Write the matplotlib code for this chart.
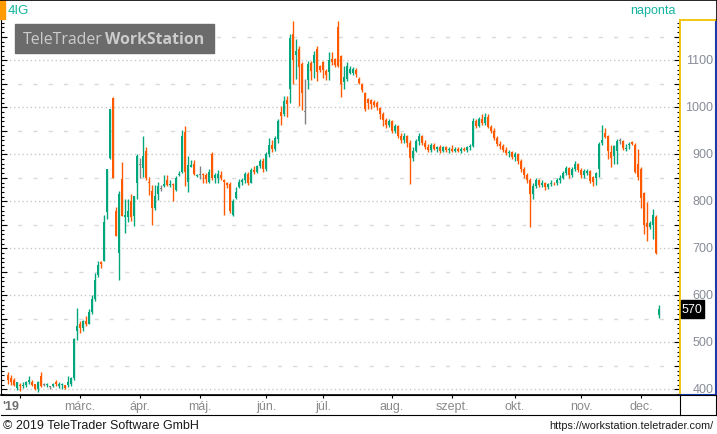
import numpy as np
import pandas as pd
import matplotlib
matplotlib.use("Agg")
import matplotlib.pyplot as plt
from matplotlib.patches import Rectangle
from matplotlib.lines import Line2D

# trading days (BET calendar, holidays removed)
holidays = ["2019-03-15", "2019-04-19", "2019-04-22", "2019-05-01", "2019-06-10",
            "2019-08-19", "2019-08-20", "2019-10-23", "2019-11-01"]
dates = pd.bdate_range("2019-01-28", "2019-12-10", freq="C", holidays=holidays)

month_names = ["'19", "márc.", "ápr.", "máj.", "jún.", "júl.", "aug.", "szept.", "okt.", "nov.", "dec."]

# daily OHLC
opens = [430, 424, 420, 402, 410, 407, 409, 415, 416, 411, 400, 428, 410, 409, 405, 407, 415, 407, 409, 409,
         409, 411, 424, 525,
         538, 530, 545, 540, 565, 592, 643, 671, 673, 777, 892, 1020, 779, 690, 847, 767, 767, 800, 768, 839,
         877, 870, 907, 841, 822, 786, 815, 826, 833, 845, 834, 837, 824, 855, 862, 947, 841, 874, 879, 854,
         856, 858, 855, 841, 900, 849, 849, 857, 845, 838, 836, 771, 807, 830, 842, 845, 858, 840, 866, 862,
         875, 885,
         868, 900, 920, 912, 932, 990, 986, 1015, 1039, 1156, 1111, 1124, 1092, 990, 1058, 1094, 1094, 1124, 1088,
         1096, 1077, 1075, 1103, 1103, 1171, 1109, 1054, 1060, 1073, 1073, 1080, 1060, 1049, 1030, 1017, 1015, 1012,
         1010, 998, 985, 972, 962,
         970, 950, 960, 940, 930, 940, 925, 892, 908, 928, 940, 925, 915, 910, 920, 912, 915, 908, 915, 910,
         912, 908, 912, 907, 912, 909, 915, 918, 970, 960, 975, 966, 980, 958, 950, 935, 922, 918, 910, 902, 905,
         895, 900, 885, 868, 855, 845, 815, 832, 845, 835, 840, 830, 836, 840, 838, 846, 850, 860, 870, 856, 868, 880,
         866, 855, 860, 864, 851, 849, 869, 924, 945, 939, 905, 896, 907, 928, 928, 912, 919, 926, 920, 880,
         869, 817, 754, 745, 749, 767, 558]
highs = [436, 430, 424, 416, 413, 416, 418, 428, 420, 412, 417, 436, 413, 414, 408, 414, 419, 415, 413, 410,
         428, 426, 510, 573,
         545, 548, 555, 570, 600, 648, 672, 673, 771, 868, 996, 1022, 788, 822, 884, 805, 805, 815, 812, 900,
         892, 939, 915, 852, 834, 835, 841, 835, 856, 855, 846, 839, 853, 865, 952, 960, 896, 888, 888, 858,
         875, 860, 860, 869, 905, 861, 867, 865, 848, 841, 841, 805, 831, 848, 850, 862, 862, 870, 875, 878,
         890, 892,
         905, 935, 930, 940, 975, 1003, 1024, 1023, 1156, 1183, 1145, 1130, 1096, 1060, 1098, 1098, 1120, 1130, 1090,
         1098, 1081, 1117, 1117, 1105, 1184, 1112, 1088, 1096, 1088, 1085, 1084, 1064, 1052, 1033, 1020, 1018, 1015,
         1013, 1000, 990, 978, 975,
         972, 965, 962, 945, 945, 942, 930, 915, 932, 945, 942, 930, 922, 925, 925, 918, 920, 918, 918, 915,
         920, 915, 916, 915, 915, 918, 922, 978, 975, 980, 985, 988, 985, 962, 955, 940, 928, 922, 915, 910, 908,
         905, 902, 890, 872, 860, 850, 838, 850, 848, 845, 842, 840, 845, 842, 850, 855, 865, 875, 872, 872, 885,
         882, 870, 868, 868, 866, 853, 862, 927, 962, 955, 942, 920, 920, 932, 935, 930, 922, 926, 928, 924,
         911, 872, 820, 798, 758, 784, 770, 580]
lows = [412, 410, 406, 398, 396, 402, 405, 412, 408, 398, 394, 404, 406, 404, 400, 404, 408, 402, 400, 401,
        405, 408, 420, 505,
        520, 525, 535, 538, 560, 588, 640, 658, 672, 762, 890, 849, 726, 632, 768, 733, 756, 758, 747, 805,
        849, 851, 845, 813, 750, 782, 803, 822, 830, 832, 831, 800, 822, 853, 860, 832, 820, 872, 856, 851,
        847, 840, 840, 838, 846, 838, 838, 846, 770, 828, 775, 768, 805, 828, 835, 840, 835, 838, 858, 860,
        870, 862,
        865, 895, 905, 908, 925, 962, 981, 980, 1010, 1050, 1060, 1003, 994, 964, 1039, 1058, 1062, 1056, 1075,
        1062, 1058, 1058, 1090, 1085, 1085, 1022, 1039, 1055, 1070, 1068, 1065, 1050, 1032, 992, 996, 996, 1000,
        995, 975, 960, 955, 958,
        945, 945, 935, 925, 925, 915, 836, 885, 905, 920, 920, 912, 905, 905, 910, 905, 902, 905, 905, 902,
        905, 904, 905, 903, 906, 905, 910, 915, 955, 958, 962, 962, 955, 945, 930, 918, 912, 905, 898, 895, 890,
        885, 880, 862, 850, 840, 745, 805, 828, 830, 830, 825, 826, 832, 834, 835, 840, 848, 855, 850, 852, 865,
        862, 850, 850, 855, 840, 832, 834, 852, 920, 935, 890, 873, 880, 880, 922, 910, 908, 912, 920, 860,
        845, 786, 730, 715, 741, 720, 688, 552]
closes = [420, 415, 410, 415, 406, 410, 415, 420, 410, 400, 415, 406, 410, 411, 405, 411, 411, 411, 411, 403,
          415, 424, 507, 535,
          530, 545, 540, 565, 592, 633, 665, 667, 756, 868, 996, 849, 726, 815, 768, 770, 779, 767, 811, 896,
          877, 896, 849, 838, 786, 811, 832, 826, 836, 834, 836, 835, 849, 858, 939, 862, 877, 878, 858, 856,
          856, 855, 847, 862, 849, 857, 858, 849, 841, 835, 779, 800, 820, 842, 845, 858, 840, 866, 862, 875,
          885, 868,
          900, 920, 912, 935, 971, 981, 1013, 1006, 1147, 1101, 1120, 1086, 1030, 990, 1092, 1077, 1111, 1075, 1079,
          1079, 1068, 1101, 1096, 1090, 1088, 1050, 1064, 1088, 1081, 1081, 1070, 1052, 1037, 996, 1010, 1008, 1005,
          1000, 985, 972, 962, 970,
          950, 960, 940, 930, 940, 925, 892, 908, 928, 940, 925, 915, 910, 920, 912, 915, 908, 915, 910, 912,
          908, 912, 907, 912, 909, 915, 918, 970, 960, 975, 966, 980, 958, 950, 935, 922, 918, 910, 902, 905, 895,
          900, 885, 868, 855, 845, 815, 832, 845, 835, 840, 830, 836, 840, 838, 846, 850, 860, 870, 856, 868, 880, 866,
          855, 864, 864, 843, 841, 860, 922, 930, 937, 908, 892, 917, 928, 928, 913, 914, 921, 922, 862, 852,
          807, 749, 745, 754, 771, 690, 570]

W, H = 717, 435
GREEN = "#00a67c"
ORANGE = "#ff5a00"
GRAY = "#808080"
TEAL = "#13b4a0"

plt.rcParams["font.family"] = ["Liberation Sans", "DejaVu Sans"]
plt.rcParams["lines.scale_dashes"] = False

fig = plt.figure(figsize=(W / 100, H / 100), dpi=100)


def px_axes(x0, y0, x1, y1):
    return fig.add_axes([x0 / W, 1 - y1 / H, (x1 - x0) / W, (y1 - y0) / H])


ymin = 400 + (390.3 - 396) / 0.47
ymax = 400 + (390.3 - 21) / 0.47
xmin, xmax = (1 - 8) / 3, (680 - 8) / 3

ax = px_axes(1, 21, 680, 396)
ax.set_xlim(xmin, xmax)
ax.set_ylim(ymin, ymax)

# grid
for v in range(400, 1200, 100):
    ax.axhline(v, color="#c8c8c8", lw=1.0, ls=(0, (1, 2)), zorder=0)
for v in range(450, 1200, 100):
    ax.axhline(v, color="#dadada", lw=1.0, ls=(10, (3, 8)), zorder=0)

o = np.array(opens, dtype=float)
h = np.array(highs, dtype=float)
l = np.array(lows, dtype=float)
c = np.array(closes, dtype=float)
x = np.arange(len(dates))
cols = np.where(c > o, GREEN, np.where(c < o, ORANGE, GRAY))

ax.vlines(x, l, h, colors=cols, lw=1.0, zorder=2)
body_lo = np.minimum(o, c)
body_h = np.maximum(np.abs(c - o), 1.5)
ax.bar(x, body_h, bottom=body_lo, width=0.8, color=cols, linewidth=0, zorder=3)

ax.set_yticks(np.arange(400, 1200, 50))
ax.set_yticks(np.arange(390, 1190, 10), minor=True)
ax.tick_params(axis="y", which="both", left=True, right=True, direction="in",
               labelleft=False, labelright=False, color="black", width=0.8)
ax.tick_params(axis="y", which="major", length=4.5)
ax.tick_params(axis="y", which="minor", length=2.5)
ax.tick_params(axis="x", which="both", bottom=False, labelbottom=False)
ax.spines["top"].set_visible(False)
ax.spines["left"].set_color("black")
ax.spines["bottom"].set_color("black")
ax.spines["bottom"].set_linewidth(1.2)
ax.spines["right"].set_color("#f2c200")
ax.spines["right"].set_linewidth(1.3)

# price scale panel
pax = px_axes(680, 21, 716, 396)
pax.set_xlim(0, 36)
pax.set_ylim(ymin, ymax)
pax.set_xticks([])
pax.set_yticks([])
pax.spines["top"].set_color("#f2c200")
pax.spines["left"].set_color("#f2c200")
pax.spines["left"].set_linewidth(1.3)
pax.spines["top"].set_linewidth(1.3)
pax.spines["right"].set_color("#1b3aa8")
pax.spines["bottom"].set_color("#1b3aa8")
pax.spines["right"].set_linewidth(1.5)
pax.spines["bottom"].set_linewidth(1.5)
for v in range(400, 1200, 100):
    pax.text(33.5, v, str(v), ha="right", va="center", fontsize=9, color="#878c97")

last = closes[-1]
pax.add_patch(Rectangle((1, last - 19), 22.5, 38, color="black", zorder=5))
pax.text(2, last, str(last), ha="left", va="center", fontsize=9, color="white", zorder=6)

# date strip
dax = px_axes(1, 396, 680, 416)
dax.set_xlim(xmin, xmax)
dax.set_ylim(0, 1)
month_pos = [i for i in range(1, len(dates)) if dates[i].month != dates[i - 1].month]
dax.set_xticks(month_pos)
dax.set_yticks([])
dax.tick_params(axis="x", which="both", bottom=False, top=True, direction="in",
                length=2.5, width=0.8, labelbottom=False, labeltop=False)
for s in ["left", "right"]:
    dax.spines[s].set_visible(False)
dax.spines["top"].set_color("black")
dax.spines["bottom"].set_color("black")
dax.text(0.002, 0.45, month_names[0], transform=dax.transAxes, ha="left", va="center",
         fontsize=9, fontweight="bold", color="#6e6e6e")
for pos, name in zip(month_pos[1:], month_names[1:]):
    dax.text(pos, 0.45, name, ha="center", va="center", fontsize=9, color="#8a8a8a")

sax = px_axes(680, 396, 716, 416)
sax.set_xticks([])
sax.set_yticks([])
for s in sax.spines.values():
    s.set_color("black")

# frame and header
fig.add_artist(Line2D([0, 1], [1 - 0.5 / H, 1 - 0.5 / H], color="black", lw=1.2))
fig.add_artist(Line2D([1 - 0.5 / W, 1 - 0.5 / W], [1 - 21 / H, 1], color="black", lw=1.2))
fig.add_artist(Rectangle((0, 1 - 20 / H), 5 / W, 20 / H, color="#ff9a00", transform=fig.transFigure))
fig.text(8 / W, 1 - 11 / H, "4IG", ha="left", va="center", fontsize=9.5, color=TEAL)
fig.text(676 / W, 1 - 11 / H, "naponta", ha="right", va="center", fontsize=9, color=TEAL)

# watermark
fig.add_artist(Rectangle((15 / W, 1 - 54 / H), 199 / W, 29 / H, color="#6b6b6b",
                         transform=fig.transFigure, zorder=4))
fig.text(23 / W, 1 - 40 / H, "TeleTrader", ha="left", va="center", fontsize=11.4,
         color="#cccccc", family="Open Sans", zorder=5)
fig.text(105 / W, 1 - 40 / H, "WorkStation", ha="left", va="center", fontsize=11.4,
         fontweight="bold", color="#cccccc", family="Open Sans", zorder=5)

# footer
fig.text(3 / W, 1 - 426 / H, "© 2019 TeleTrader Software GmbH", ha="left", va="center",
         fontsize=9, color="#1a1a1a")
fig.text(713 / W, 1 - 426 / H, "https://workstation.teletrader.com/", ha="right", va="center",
         fontsize=7.8, color="#1a1a1a")

fig.savefig("out.png", dpi=100)
